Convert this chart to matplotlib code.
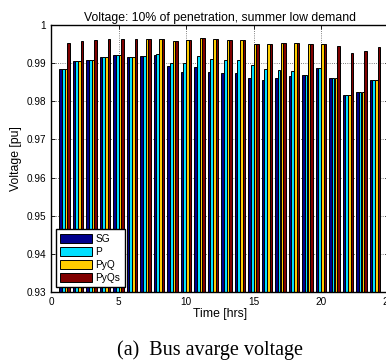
import numpy as np
import matplotlib
matplotlib.use('Agg')
import matplotlib.pyplot as plt

hours = list(range(1, 25))

# average bus voltage [pu] per hour for each control strategy
sg = [0.9884, 0.9906, 0.9907, 0.9917, 0.9921, 0.9916, 0.9918, 0.9921, 0.9892, 0.9877, 0.9889, 0.9878,
      0.9873, 0.9873, 0.9861, 0.9855, 0.9860, 0.9866, 0.9868, 0.9887, 0.9862, 0.9817, 0.9824, 0.9855]
p = [0.9884, 0.9906, 0.9907, 0.9917, 0.9921, 0.9916, 0.9919, 0.9923, 0.9900, 0.9901, 0.9918, 0.9912,
     0.9908, 0.9907, 0.9895, 0.9885, 0.9883, 0.9880, 0.9870, 0.9887, 0.9862, 0.9817, 0.9824, 0.9855]
pyq = [0.9884, 0.9906, 0.9907, 0.9917, 0.9921, 0.9916, 0.9962, 0.9964, 0.9958, 0.9961, 0.9966, 0.9964,
       0.9961, 0.9961, 0.9950, 0.9951, 0.9954, 0.9953, 0.9950, 0.9951, 0.9862, 0.9817, 0.9824, 0.9855]
pyqs = [0.9953, 0.9959, 0.9961, 0.9964, 0.9964, 0.9964, 0.9964, 0.9964, 0.9958, 0.9961, 0.9966, 0.9964,
        0.9961, 0.9961, 0.9950, 0.9951, 0.9954, 0.9953, 0.9950, 0.9951, 0.9945, 0.9927, 0.9931, 0.9943]

series = [('SG', sg, '#00008C'), ('P', p, '#00DFFF'), ('PyQ', pyq, '#FFCC00'), ('PyQs', pyqs, '#800000')]
yticks = [0.93, 0.94, 0.95, 0.96, 0.97, 0.98, 0.99, 1]
ytick_labels = ['0.93', '0.94', '0.95', '0.96', '0.97', '0.98', '0.99', '1']
xticks = [0, 5, 10, 15, 20, 25]

plt.rcParams['font.family'] = ['Liberation Sans', 'DejaVu Sans']

fig = plt.figure(figsize=(3.86, 3.64), dpi=100)
ax = fig.add_axes([51/386, 1 - 292/364, 337.5/386, 267/364])

x = np.array(hours)
w = 0.2
for i, (name, vals, col) in enumerate(series):
    ax.bar(x + (i - 1.5)*w, np.array(vals) - 0.93, w, bottom=0.93, color=col,
           edgecolor='black', linewidth=0.7, label=name)

ax.set_xlim(0, 25)
ax.set_ylim(0.93, 1)
ax.set_xticks(xticks)
ax.set_yticks(yticks)
ax.set_yticklabels(ytick_labels)
ax.tick_params(direction='in', length=3, labelsize=7.2, top=True, right=True, width=0.6)
ax.set_axisbelow(True)
ax.grid(True, linestyle=':', color='#555555', linewidth=0.6)
for s in ax.spines.values():
    s.set_linewidth(1.0)

ax.set_title('Voltage: 10% of penetration, summer low demand', fontsize=8.8, pad=3)
ax.set_xlabel('Time [hrs]', fontsize=8.8, labelpad=1)
ax.set_ylabel('Voltage [pu]', fontsize=8.8, labelpad=3)

leg = ax.legend(loc='lower left', fontsize=7.3, fancybox=False, framealpha=1,
                edgecolor='black', borderpad=0.45, labelspacing=0.3, handlelength=3.1,
                handleheight=0.95, handletextpad=0.4, borderaxespad=0.45)
leg.get_frame().set_linewidth(1.0)

fig.text(210/386, 1 - 350/364, '(a)  Bus avarge voltage', ha='center', va='center',
         fontsize=14.5, family='Liberation Serif')

fig.savefig('out.png', dpi=100)
